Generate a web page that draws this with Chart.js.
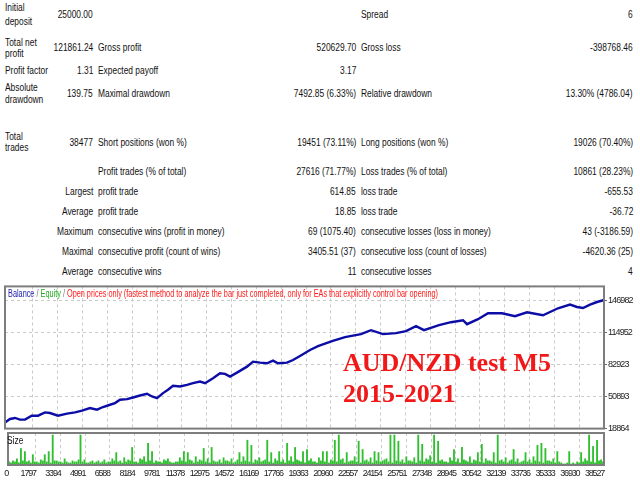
<!DOCTYPE html>
<html><head><meta charset="utf-8">
<script src="https://cdn.jsdelivr.net/npm/chart.js@4.4.1/dist/chart.umd.min.js"></script>
<style>
html,body{margin:0;padding:0;background:#fff;}
#page{position:relative;width:640px;height:480px;overflow:hidden;font-family:'Liberation Sans',Arial,sans-serif;color:#111;}
.t{position:absolute;font-size:10px;line-height:12px;white-space:nowrap;}
.l{transform-origin:left center;transform:scaleX(0.84);}
.r{transform-origin:right center;transform:scaleX(0.84);text-align:right;}
#mainWrap{position:absolute;left:0;top:280px;width:640px;height:155px;}
#sizeWrap{position:absolute;left:0;top:428px;width:640px;height:52px;}
#legend{position:absolute;left:8px;top:288px;font-size:10px;line-height:12px;white-space:nowrap;transform-origin:left center;}
#sizeLbl{position:absolute;left:7px;top:435px;font-size:10px;line-height:12px;transform-origin:left center;transform:scaleX(0.84);color:#111;}
.red{position:absolute;left:343px;font-family:'Liberation Serif','Times New Roman',serif;font-weight:bold;font-size:26px;line-height:26px;color:#f01818;white-space:nowrap;}
</style></head>
<body>
<div id="page">
  <div id="table"></div>
  <div id="mainWrap"><canvas id="main"></canvas></div>
  <div id="sizeWrap"><canvas id="size"></canvas></div>
  <div id="legend"><span style="color:#1a1aa8">Balance</span><span style="color:#777"> / </span><span style="color:#1faa1f">Equity</span><span style="color:#777"> / </span><span style="color:#ff1a1a">Open prices only (fastest method to analyze the bar just completed, only for EAs that explicitly control bar opening)</span></div>
  <div id="sizeLbl">Size</div>
  <div class="red" style="top:350px">AUD/NZD test M5</div>
  <div class="red" style="top:381px">2015-2021</div>
</div>
<script>
// ---- report table text ----
const tableCells = [
 ['Initial',5,8,'l'],['deposit',5,22,'l'],['25000.00',93,15,'r'],['Spread',361,15,'l'],['6',633,15,'r'],
 ['Total net',5,43,'l'],['profit',5,54,'l'],['121861.24',93,48,'r'],['Gross profit',98,48,'l'],['520629.70',356,48,'r'],['Gross loss',361,48,'l'],['-398768.46',633,48,'r'],
 ['Profit factor',5,71,'l'],['1.31',93,71,'r'],['Expected payoff',98,71,'l'],['3.17',356,71,'r'],
 ['Absolute',5,88,'l'],['drawdown',5,100,'l'],['139.75',93,94,'r'],['Maximal drawdown',98,94,'l'],['7492.85 (6.33%)',356,94,'r'],['Relative drawdown',361,94,'l'],['13.30% (4786.04)',633,94,'r'],
 ['Total',5,137,'l'],['trades',5,148,'l'],['38477',93,143,'r'],['Short positions (won %)',98,143,'l'],['19451 (73.11%)',356,143,'r'],['Long positions (won %)',361,143,'l'],['19026 (70.40%)',633,143,'r'],
 ['Profit trades (% of total)',98,172,'l'],['27616 (71.77%)',356,172,'r'],['Loss trades (% of total)',361,172,'l'],['10861 (28.23%)',633,172,'r'],
 ['Largest',93,192,'r'],['profit trade',98,192,'l'],['614.85',356,192,'r'],['loss trade',361,192,'l'],['-655.53',633,192,'r'],
 ['Average',93,212,'r'],['profit trade',98,212,'l'],['18.85',356,212,'r'],['loss trade',361,212,'l'],['-36.72',633,212,'r'],
 ['Maximum',93,232,'r'],['consecutive wins (profit in money)',98,232,'l'],['69 (1075.40)',356,232,'r'],['consecutive losses (loss in money)',361,232,'l'],['43 (-3186.59)',633,232,'r'],
 ['Maximal',93,252,'r'],['consecutive profit (count of wins)',98,252,'l'],['3405.51 (37)',356,252,'r'],['consecutive loss (count of losses)',361,252,'l'],['-4620.36 (25)',633,252,'r'],
 ['Average',93,272,'r'],['consecutive wins',98,272,'l'],['11',356,272,'r'],['consecutive losses',361,272,'l'],['4',633,272,'r']
];
const tbl = document.getElementById('table');
tableCells.forEach(([txt,x,y,a])=>{
  const s=document.createElement('div');
  s.className='t '+a; s.textContent=txt; s.style.top=(y-6)+'px';
  if(a==='l') s.style.left=x+'px'; else s.style.right=(640-x)+'px';
  tbl.appendChild(s);
});
const lg=document.getElementById('legend');
lg.style.transform='scaleX('+(430/lg.getBoundingClientRect().width)+')';

// ---- chart data ----
const tradeIdx = [0,322,643,965,1286,1717,2123,2573,2894,3409,3988,4502,4953,5467,5917,6303,6754,7075,7397,7847,8233,8683,9133,9455,9777,10163,10484,10806,11256,11706,12092,12543,12864,13378,13829,14150,14472,14922,15565,15951,16402,16852,17238,17559,18138,18524,18974,19618,20132,21033,21869,22898,23541,24313,25149,25792,26436,26950,27915,28687,29459,29716,30423,31066,31967,32803,33575,34604,35569,36341,36791,37177,37627,38077,38477];
const balance = [25000,28480,29470,27790,27790,31750,31750,35030,34430,31750,33740,35030,36710,39390,37700,40380,42660,44350,47620,48310,49900,51880,53570,50890,49310,54260,57540,61500,60810,62500,64180,65770,64180,69140,74100,73400,70720,74690,80640,85600,84610,84010,86590,84010,84610,87280,91250,97200,101170,106130,110090,113070,117030,113070,114060,116040,121000,117030,121990,124970,126950,122980,127940,133890,133890,130920,134880,131910,138850,142520,140140,139150,142520,145100,146861];
const xTicks = [0,1797,3394,4991,6588,8184,9781,11378,12975,14572,16169,17766,19363,20960,22557,24154,25751,27348,28945,30542,32139,33736,35333,36930,38527];
const yTicks = [18864,50893,82923,114952,146982];
const sizes = [
 3,2,4,3,6,2,16,4,13,3,4,2,10,3,3,2,5,4,10,3,
 13,2,29,4,4,3,3,2,6,3,2,2,4,3,3,5,29,3,5,2,
 2,3,4,2,3,4,2,3,5,2,3,3,6,4,12,3,4,2,7,3,
 5,4,17,3,3,2,6,5,8,3,21,4,13,2,4,3,3,2,5,4,
 6,3,2,2,3,3,7,4,13,3,12,5,4,2,8,3,5,4,16,3,
 6,2,17,4,3,3,5,2,7,4,4,3,6,2,3,5,12,3,8,4,
 24,3,19,2,5,4,7,3,4,5,24,3,12,2,6,4,13,3,5,2,
 21,4,8,3,17,5,4,3,13,2,15,4,6,3,3,2,7,4,13,3,
 13,2,5,4,24,3,29,5,6,2,12,3,4,4,8,3,23,2,15,4,
 5,3,7,2,13,4,12,3,4,5,6,3,29,2,29,4,23,3,5,2,
 8,4,4,3,7,2,29,4,20,3,6,5,9,3,29,2,23,4,5,3,
 3,2,7,4,15,3,6,2,17,5,4,3,8,2,5,4,12,3,20,2,
 6,4,4,3,12,2,29,4,5,3,7,2,4,5,15,3,6,2,3,4,
 12,3,5,2,8,4,19,3,21,2,16,4,4,3,6,2,13,3,2,1,
 1,2,13,1,2,1,3,2,12,3,6,4,29,3,18,2,24,4,5,3
];

const frame = {id:'frame', afterDatasetsDraw(chart){
  const {ctx, chartArea:a} = chart; ctx.save(); ctx.setLineDash([]);
  ctx.strokeStyle='#7d7d7d'; ctx.lineWidth=2;
  ctx.strokeRect(a.left, a.top, a.right-a.left, a.bottom-a.top); ctx.restore();
}};
const spacing = (px)=>({id:'spacing', beforeDraw(chart){ try{chart.ctx.letterSpacing=px;}catch(e){} }});
const gridDash = [3,3];
const setTicks = (arr)=> (s)=>{ s.ticks = arr.map(v=>({value:v})); };

new Chart(document.getElementById('main'), {
  type:'line',
  data:{datasets:[{label:'Balance', data: tradeIdx.map((t,i)=>({x:t,y:balance[i]})), borderColor:'#0c0ca6', borderWidth:2.4, pointRadius:0, tension:0, fill:false}]},
  options:{
    responsive:true, maintainAspectRatio:false, animation:false,
    layout:{padding:{left:5, top:6, right:0, bottom:6}},
    plugins:{legend:{display:false}, tooltip:{enabled:false}},
    scales:{
      x:{type:'linear', min:0, max:38527, afterBuildTicks:setTicks(xTicks), afterFit:s=>{s.height=0;},
         ticks:{display:false}, grid:{color:'#cacaca', drawTicks:false}, border:{display:false, dash:gridDash}},
      y:{type:'linear', position:'right', min:18864, max:160664, afterBuildTicks:setTicks(yTicks), afterFit:s=>{s.width=36;},
         ticks:{font:{family:'Liberation Sans', size:9}, color:'#222', padding:1, callback:v=>String(v)},
         grid:{color:'#cacaca', tickLength:3, tickColor:'#666', tickBorderDash:[]}, border:{display:false, dash:gridDash}}
    }
  },
  plugins:[frame, spacing('-0.9px')]
});

new Chart(document.getElementById('size'), {
  type:'bar',
  data:{labels: sizes.map((_,i)=>i), datasets:[{label:'Size', data:sizes, xAxisID:'xb', yAxisID:'y', backgroundColor:'#2fbf2f', barThickness:1.2, borderWidth:0}]},
  options:{
    responsive:true, maintainAspectRatio:false, animation:false,
    layout:{padding:{left:5, top:5, right:0, bottom:0}},
    plugins:{legend:{display:false}, tooltip:{enabled:false}},
    scales:{
      xb:{type:'category', display:false, offset:true},
      x:{type:'linear', position:'bottom', min:0, max:38527, offset:false, afterBuildTicks:setTicks(xTicks), afterFit:s=>{s.height=15;},
         ticks:{autoSkip:false, maxRotation:0, minRotation:0, align:'end', font:{family:'Liberation Sans', size:9}, color:'#222', padding:3, callback:v=>String(v)},
         grid:{color:'#cacaca', drawTicks:false, offset:false}, border:{display:false, dash:gridDash}},
      y:{type:'linear', position:'right', min:0, max:31, afterFit:s=>{s.width=36;}, ticks:{display:false}, grid:{display:false}, border:{display:false}}
    }
  },
  plugins:[frame, spacing('-1.2px')]
});
</script>
</body></html>
